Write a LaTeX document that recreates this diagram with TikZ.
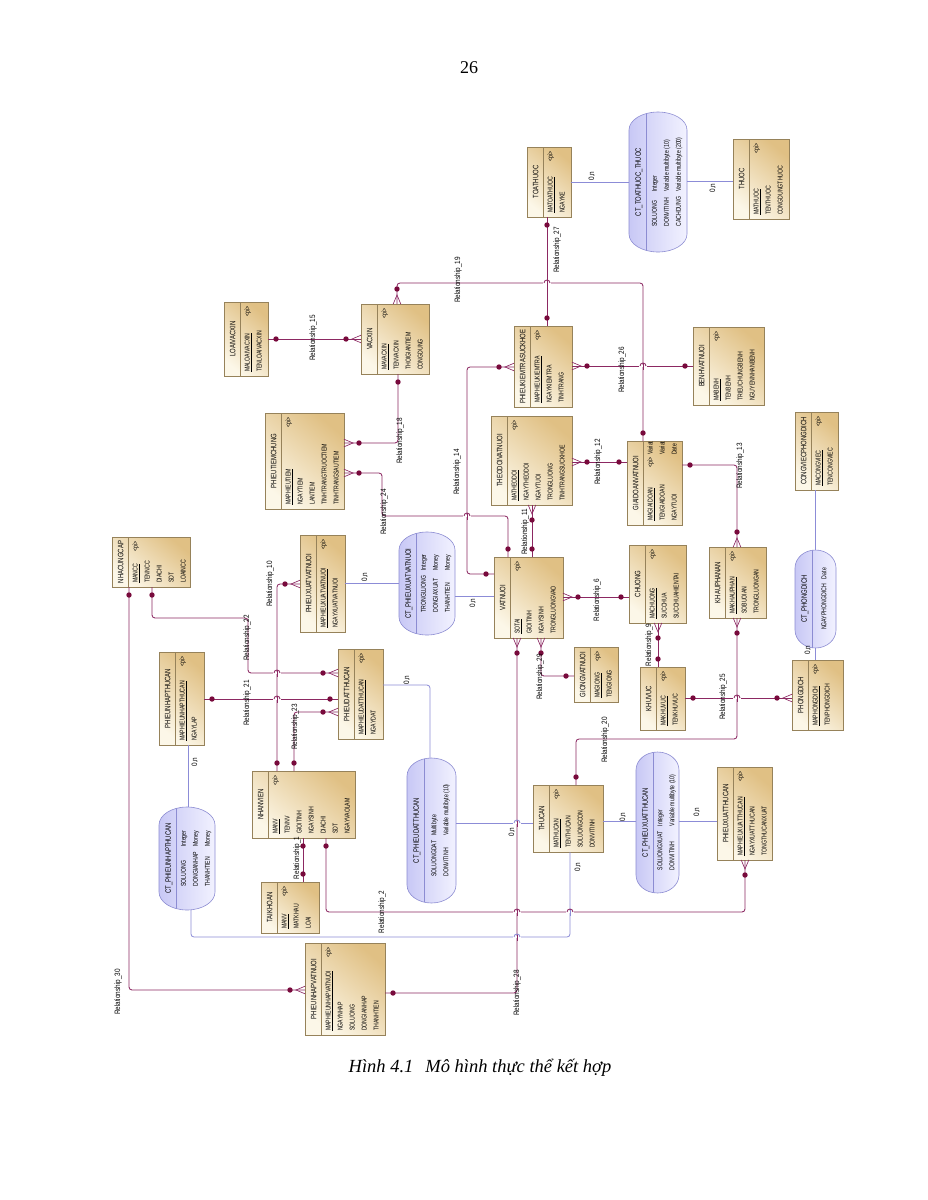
\documentclass[tikz,border=0pt]{standalone}
\usepackage{fontspec}
\setmainfont{Liberation Serif}
\newfontfamily\erf[FakeStretch=0.74]{Liberation Sans}
\newfontfamily\erft[FakeStretch=0.76]{Liberation Sans}
\newfontfamily\erfl[FakeStretch=0.82]{Liberation Sans}
\usetikzlibrary{calc}

\definecolor{relc}{RGB}{140,40,98}
\definecolor{dotc}{RGB}{120,10,60}
\definecolor{asc}{RGB}{140,140,215}
\definecolor{entl}{RGB}{252,247,232}
\definecolor{entd}{RGB}{224,192,132}
\definecolor{entb}{RGB}{150,130,90}
\definecolor{capl}{RGB}{242,242,255}
\definecolor{capd}{RGB}{200,200,245}
\definecolor{capb}{RGB}{140,140,210}

\tikzset{
  entbox/.style={draw=entb, line width=0.6pt, top color=entd, bottom color=entl, shading angle=-40, inner sep=0pt, outer sep=0pt},
  capshape/.style={draw=capb, line width=0.6pt, left color=capd, right color=capl},
  etext/.style={font=\erf\fontsize{7}{7.6}\selectfont, inner sep=0pt, text height=5pt, text depth=0pt, rotate=90, text=black},
  ttext/.style={font=\erft\fontsize{7.8}{8.4}\selectfont, inner sep=0pt, text height=5.6pt, text depth=0pt, rotate=90, text=black},
  ctext/.style={font=\erf\fontsize{7}{12}\selectfont, inner sep=0pt, text=black},
  lbl/.style={font=\erfl\fontsize{7.8}{8.4}\selectfont, inner sep=0pt, rotate=90, text=black},
  rel/.style={color=relc, line width=0.85pt, rounded corners=3pt},
  asl/.style={color=asc, line width=0.8pt, rounded corners=3pt},
  crowline/.style={color=relc, line width=0.65pt}
}

% entity: [pi offset]{name}{x}{y}{w}{h}{title}{attributes}
\newcommand\ent[8][4]{%
  \node[entbox, minimum width=#5pt, minimum height=#6pt, anchor=north west] (#2) at (#3,#4) {};
  \draw[entb, line width=0.5pt] ($(#2.north west)+(16,0)$) -- ($(#2.south west)+(16,0)$);
  \node[ttext] at ($(#2.west)+(8.5,0)$) {#7};
  \foreach \a [count=\i] in {#8} {%
    \ifnum\i=1\relax
      \node[etext, anchor=west] at ($(#2.south west)+(23,-4)$) {\underline{\a}};
    \else
      \node[etext, anchor=west] at ($(#2.south west)+({23+12*(\i-1)},-4)$) {\a};
    \fi
  }
  \node[etext, anchor=east] at ($(#2.north west)+(23,#1)$) {<pi>};
}

% association: {name}{x}{y}{w}{h}{title}{rows}
\newcommand\assoc[7]{%
  \node[minimum width=#4pt, minimum height=#5pt, anchor=north west, inner sep=0pt, outer sep=0pt] (#1) at (#2,#3) {};
  \path[capshape, path picture={\draw[capb, line width=0.5pt] ($(path picture bounding box.north west)+(17,0)$) -- ($(path picture bounding box.south west)+(17,0)$);}]
    ($(#1.north west)+(0,18)$) arc[start angle=180, end angle=0, x radius={#4*0.5pt}, y radius=18pt]
    -- ($(#1.south east)+(0,-18)$) arc[start angle=0, end angle=-180, x radius={#4*0.5pt}, y radius=18pt] -- cycle;
  \node[ttext] at ($(#1.west)+(9,0)$) {#6};
  \node[ctext, rotate=90] at ($(#1.center)+(8.5,0)$) {\begin{tabular}{@{}l@{\hspace{5pt}}l@{}}#7\end{tabular}};
}

% markers: {coordinate}{dx}{dy}  (direction pointing away from the entity)
\newcommand\one[3]{\fill[dotc] ($(#1)+({8*(#2)},{8*(#3)})$) circle (2.7pt);}
\newcommand\many[3]{%
  \fill[dotc] ($(#1)+({15*(#2)},{15*(#3)})$) circle (2.7pt);
  \draw[crowline] ($(#1)+({3.8*(#3)},{3.8*(#2)})$) -- ($(#1)+({9*(#2)},{9*(#3)})$) -- ($(#1)+({-3.8*(#3)},{-3.8*(#2)})$);
}

\newcommand\hopH[4]{%
  \fill[white] (#1-3.6,#2-1.4) rectangle (#1+3.6,#2+1.4);
  \draw[color=#4, line width=0.85pt] (#1,#2-3.5) -- (#1,#2+3.5);
  \draw[color=#3, line width=0.85pt] (#1-3,#2) arc[start angle=180, end angle=0, radius=3pt];
}

\begin{document}
\begin{tikzpicture}[x=1pt,y=-1pt]
\path[fill=white] (0,0) rectangle (927,1200);

\node[font=\fontsize{18}{20}\selectfont] (pageno) at (469,68) {26};
\node[font=\itshape\fontsize{18.5}{21}\selectfont] (caption) at (480,1068) {Hình 4.1\hspace{12pt}Mô hình thực thể kết hợp};

% ---------- entities ----------
\ent{toathuoc}{527}{147}{44}{70}{TOATHUOC}{MATOATHUOC, NGAYKE}
\ent{thuoc}{733}{139}{56}{80}{THUOC}{MATHUOC, TENTHUOC, CONGDUNGTHUOC}
\ent{vacxin}{361}{304}{68}{70}{VACXIN}{MAVACXIN, TENVACXIN, THOIGIANTIEM, CONGDUNG}
\ent{loaivacxin}{224}{302}{44}{74}{LOAIVACXIN}{MALOAIVACXIN, TENLOAIVACXIN}
\ent{phieukiemtra}{514}{326}{58}{81}{PHIEUKIEMTRASUCKHOE}{MAPHIEUKIEMTRA, NGAYKIEMTRA, TINHTRANG}
\ent{benh}{693}{327}{71}{78}{BENHVATNUOI}{MABENH, TENBENH, TRIEUCHUNGBENH, NGUYENNHANBENH}
\ent{theodoi}{491}{416}{81}{89}{THEODOIVATNUOI}{MATHEODOI, NGAYTHEODOI, NGAYTUOI, TRONGLUONG, TINHTRANGSUCKHOE}
\ent[16]{giaidoan}{627}{441}{55}{84}{GIAIDOANVATNUOI}{MAGIAIDOAN, TENGIAIDOAN, NGAYTUOI}
\begin{scope}
  \clip (giaidoan.north west) rectangle (giaidoan.south east);
  \node[etext, anchor=west] (gdt1) at ($(giaidoan.north west)+(23,14)$) {Variat};
  \node[etext, anchor=west] (gdt2) at ($(giaidoan.north west)+(35,14)$) {Variat};
  \node[etext, anchor=west] (gdt3) at ($(giaidoan.north west)+(47,14)$) {Date};
\end{scope}
\ent{khauphan}{709}{547}{57}{71}{KHAUPHANAN}{MAKHAUPHAN, SOBUOIAN, TRONGLUONGAN}
\ent{chuong}{629}{545}{57}{78}{CHUONG}{MACHUONG, SUCCHUA, SUCCHUAHIENTAI}
\ent{khuvuc}{640}{667}{45}{63}{KHUVUC}{MAKHUVUC, TENKHUVUC}
\ent{giong}{574}{647}{44}{55}{GIONGVATNUOI}{MAGIONG, TENGIONG}
\ent{vatnuoi}{494}{557}{69}{81}{VATNUOI}{SOTAI, GIOITINH, NGAYSINH, TRONGLUONGVAO}
\ent{phieuxuatvn}{300}{535}{45}{97}{PHIEUXUATVATNUOI}{MAPHIEUXUATVATNUOI, NGAYXUATVATNUOI}
\ent{phieutiem}{265}{413}{79}{96}{PHIEUTIEMCHUNG}{MAPHIEUTIEM, NGAYTIEM, LANTIEM, TINHTRANGTRUOCTIEM, TINHTRANGSAUTIEM}
\ent{ncc}{112}{537}{78}{50}{NHACUNGCAP}{MANCC, TENNCC, DIACHI, SDT, LOAINCC}
\ent{phieunhapta}{159}{652}{45}{93}{PHIEUNHAPTHUCAN}{MAPHIEUNHAPTHUCAN, NGAYLAP}
\ent{phieudatta}{338}{649}{45}{90}{PHIEUDATTHUCAN}{MAPHIEUDATTHUCAN, NGAYDAT}
\ent{nhanvien}{252}{771}{103}{67}{NHANVIEN}{MANV, TENNV, GIOITINH, NGAYSINH, DIACHI, SDT, NGAYVAOLAM}
\ent{taikhoan}{261}{882}{58}{51}{TAIKHOAN}{MANV, MATKHAU, LOAI}
\ent{thucan}{533}{785}{70}{67}{THUCAN}{MATHUCAN, TENTHUCAN, SOLUONGCON, DONVITINH}
\ent{phieuxuatta}{717}{767}{55}{93}{PHIEUXUATTHUCAN}{MAPHIEUXUATTHUCAN, NGAYXUATTHUCAN, TONGTHUCANXUAT}
\ent{phieunhapvn}{305}{943}{80}{92}{PHIEUNHAPVATNUOI}{MAPHIEUNHAPVATNUOI, NGAYNHAP, SOLUONG, DONGIANHAP, THANHTIEN}
\ent{phongdich}{792}{660}{51}{70}{PHONGDICH}{MAPHONGDICH, TENPHONGDICH}
\ent{congviec}{795}{412}{43}{78}{CONGVIECPHONGDICH}{MACONGVIEC, TENCONGVIEC}

% ---------- associations ----------
\assoc{ctToa}{629}{112}{58}{140}{CT\_TOATHUOC\_THUOC}{SOLUONG & Integer\\ DONVITINH & Variable multibyte (10)\\ CACHDUNG & Variable multibyte (200)}
\assoc{ctXuatVN}{399}{532}{56}{103}{CT\_PHIEUXUATVATNUOI}{TRONGLUONG & Integer\\ DONGIAXUAT & Money\\ THANHTIEN & Money}
\assoc{ctNhapTA}{159}{807}{56}{103}{CT\_PHIEUNHAPTHUCAN}{SOLUONG & Integer\\ DONGIANHAP & Money\\ THANHTIEN & Money}
\assoc{ctDatTA}{407}{758}{49}{145}{CT\_PHIEUDATTHUCAN}{SOLUONGDAT & Multibyte\\ DONVITINH & Variable multibyte (10)}
\assoc{ctXuatTA}{636}{752}{43}{141}{CT\_PHIEUXUATTHUCAN}{SOLUONGXUAT & Integer\\ DONVITINH & Variable multibyte (10)}
\assoc{ctPhong}{795}{550}{41}{98}{CT\_PHONGDICH}{NGAYPHONGDICH & Date}

% ---------- association links ----------
\draw[asl] ($(toathuoc.north east)+(0,35)$) -- ($(ctToa.north west)+(0,70)$);
\draw[asl] ($(ctToa.north east)+(0,69)$) -- ($(thuoc.north west)+(0,42)$);
\draw[asl] ($(ctXuatVN.north west)+(0,51)$) -- ($(phieuxuatvn.north east)+(0,48)$);
\draw[asl] ($(ctXuatVN.north east)+(0,64)$) -- ($(vatnuoi.north west)+(0,39)$);
\draw[asl] ($(phieudatta.north east)+(0,36)$) -| ($(ctDatTA.north west)+(23,0)$);
\draw[asl] ($(ctDatTA.north east)+(0,65)$) -- ($(thucan.north west)+(0,38)$);
\draw[asl] ($(phieunhapta.south west)+(29,0)$) -- ($(ctNhapTA.north west)+(29,0)$);
\draw[asl] ($(ctNhapTA.south west)+(32,0)$) |- ($(thucan.south west)+(37,85)$) -- ($(thucan.south west)+(37,0)$);
\draw[asl] ($(thucan.north east)+(0,36)$) -- ($(ctXuatTA.north west)+(0,69)$);
\draw[asl] ($(ctXuatTA.north east)+(0,69)$) -- ($(phieuxuatta.north west)+(0,54)$);
\draw[asl] ($(congviec.south west)+(20,0)$) -- ($(ctPhong.north west)+(20,0)$);
\draw[asl] ($(ctPhong.south west)+(20,0)$) -- ($(phongdich.north west)+(23,0)$);

% ---------- relationship end points ----------
\coordinate (r27a) at ($(toathuoc.south west)+(20,0)$);
\coordinate (r27b) at ($(phieukiemtra.north west)+(33,0)$);
\coordinate (r19a) at ($(vacxin.north west)+(36,0)$);
\coordinate (r19b) at ($(giaidoan.north west)+(16,0)$);
\coordinate (r15a) at ($(loaivacxin.north east)+(0,37)$);
\coordinate (r15b) at ($(vacxin.north west)+(0,35)$);
\coordinate (r26a) at ($(phieukiemtra.north east)+(0,40)$);
\coordinate (r26b) at ($(benh.north west)+(0,39)$);
\coordinate (r14a) at ($(phieukiemtra.north west)+(0,41)$);
\coordinate (r14b) at ($(vatnuoi.north west)+(0,17)$);
\coordinate (r11a) at ($(theodoi.south west)+(41,0)$);
\coordinate (r11b) at ($(vatnuoi.north west)+(38,0)$);
\coordinate (r24a) at ($(phieutiem.north east)+(0,60)$);
\coordinate (r24b) at ($(vatnuoi.north west)+(14,0)$);
\coordinate (r18a) at ($(vacxin.south west)+(37,0)$);
\coordinate (r18b) at ($(phieutiem.north east)+(0,30)$);
\coordinate (r12a) at ($(theodoi.north east)+(0,46)$);
\coordinate (r12b) at ($(giaidoan.north west)+(0,21)$);
\coordinate (r13a) at ($(giaidoan.north east)+(0,24)$);
\coordinate (r13b) at ($(khauphan.north west)+(28,0)$);
\coordinate (r6a) at ($(vatnuoi.north east)+(0,40)$);
\coordinate (r6b) at ($(chuong.north west)+(0,52)$);
\coordinate (r9a) at ($(chuong.south west)+(29,0)$);
\coordinate (r9b) at ($(khuvuc.north west)+(18,0)$);
\coordinate (r25a) at ($(khuvuc.north east)+(0,31)$);
\coordinate (r25b) at ($(phongdich.north west)+(0,38)$);
\coordinate (r20a) at ($(khauphan.south west)+(28,0)$);
\coordinate (r20b) at ($(thucan.north west)+(43,0)$);
\coordinate (r29a) at ($(vatnuoi.south west)+(47,0)$);
\coordinate (r29b) at ($(giong.north west)+(0,29)$);
\coordinate (r28a) at ($(phieunhapvn.north east)+(0,50)$);
\coordinate (r28b) at ($(vatnuoi.south west)+(23,0)$);
\coordinate (r2a) at ($(nhanvien.south west)+(74,0)$);
\coordinate (r2b) at ($(phieuxuatta.south west)+(28,0)$);
\coordinate (r1a) at ($(nhanvien.south west)+(51,0)$);
\coordinate (r1b) at ($(taikhoan.north west)+(42,0)$);
\coordinate (r23a) at ($(nhanvien.north west)+(42,0)$);
\coordinate (r23b) at ($(phieudatta.north west)+(0,63)$);
\coordinate (r10a) at ($(phieuxuatvn.north west)+(0,49)$);
\coordinate (r10b) at ($(nhanvien.north west)+(25,0)$);
\coordinate (r21a) at ($(phieunhapta.north east)+(0,47)$);
\coordinate (r21b) at ($(phieudatta.north west)+(0,50)$);
\coordinate (r22a) at ($(ncc.south west)+(40,0)$);
\coordinate (r22b) at ($(phieudatta.north west)+(0,24)$);
\coordinate (r30a) at ($(ncc.south west)+(17,0)$);
\coordinate (r30b) at ($(phieunhapvn.north west)+(0,47)$);

% ---------- relationships ----------
\draw[rel] (r27a) -- (r27b);
\draw[rel] (r19a) |- ($(r19b)+(0,-158)$) -- (r19b);
\draw[rel] (r15a) -- (r15b);
\draw[rel] (r26a) -- (r26b);
\draw[rel] (r14a) -| ($(r14b)+(-27,0)$) -- (r14b);
\draw[rel] (r11a) -- (r11b);
\draw[rel] (r24a) -| ($(r24a)+(38,43)$) -| (r24b);
\draw[rel] (r18a) |- (r18b);
\draw[rel] (r12a) -- (r12b);
\draw[rel] (r13a) -| (r13b);
\draw[rel] (r6a) -- (r6b);
\draw[rel] (r9a) -- (r9b);
\draw[rel] (r25a) -- (r25b);
\draw[rel] (r20a) |- ($(r20b)+(0,-46)$) -- (r20b);
\draw[rel] (r29a) |- (r29b);
\draw[rel] (r28a) -| (r28b);
\draw[rel] (r2a) |- ($(r2b)+(0,52)$) -- (r2b);
\draw[rel] (r1a) -- (r1b);
\draw[rel] (r23a) |- (r23b);
\draw[rel] (r10a) -| (r10b);
\draw[rel] (r21a) -- (r21b);
\draw[rel] (r22a) |- ($(r22a)+(96,31)$) |- (r22b);
\draw[rel] (r30a) |- (r30b);

% ---------- line hops ----------
\hopH{547}{283}{relc}{relc}
\hopH{643}{366}{relc}{relc}
\hopH{467}{516}{relc}{relc}
\hopH{737}{698}{relc}{relc}
\hopH{277}{673}{relc}{relc}
\hopH{277}{699}{relc}{relc}
\hopH{517}{823}{asc}{relc}
\hopH{517}{912}{relc}{relc}
\hopH{517}{937}{asc}{relc}
\hopH{570}{912}{relc}{asc}

% ---------- end markers ----------
\one{r27a}{0}{1}   \one{r27b}{0}{-1}
\many{r19a}{0}{-1} \one{r19b}{0}{-1}
\one{r15a}{1}{0}   \many{r15b}{-1}{0}
\many{r26a}{1}{0}  \one{r26b}{-1}{0}
\many{r14a}{-1}{0} \one{r14b}{-1}{0}
\many{r11a}{0}{1}  \one{r11b}{0}{-1}
\many{r24a}{1}{0}  \one{r24b}{0}{-1}
\one{r18a}{0}{1}   \many{r18b}{1}{0}
\many{r12a}{1}{0}  \one{r12b}{-1}{0}
\one{r13a}{1}{0}   \many{r13b}{0}{-1}
\many{r6a}{1}{0}   \one{r6b}{-1}{0}
\many{r9a}{0}{1}   \one{r9b}{0}{-1}
\one{r25a}{1}{0}   \many{r25b}{-1}{0}
\many{r20a}{0}{1}  \one{r20b}{0}{-1}
\many{r29a}{0}{1}  \one{r29b}{-1}{0}
\one{r28a}{1}{0}   \many{r28b}{0}{1}
\one{r2a}{0}{1}    \many{r2b}{0}{1}
\one{r1a}{0}{1}    \one{r1b}{0}{-1}
\one{r23a}{0}{-1}  \many{r23b}{-1}{0}
\many{r10a}{-1}{0} \one{r10b}{0}{-1}
\one{r21a}{1}{0}   \one{r21b}{-1}{0}
\one{r22a}{0}{1}   \many{r22b}{-1}{0}
\one{r30a}{0}{1}   \many{r30b}{-1}{0}

% ---------- labels ----------
\node[lbl] (l27) at (557,250) {Relationship\_27};
\node[lbl] (l19) at (458,280) {Relationship\_19};
\node[lbl] (l15) at (313,338) {Relationship\_15};
\node[lbl] (l26) at (622,370) {Relationship\_26};
\node[lbl] (l14) at (457,472) {Relationship\_14};
\node[lbl] (l18) at (400,441) {Relationship\_18};
\node[lbl] (l24) at (384,512) {Relationship\_24};
\node[lbl] (l11) at (525,532) {Relationship\_11};
\node[lbl] (l12) at (598,462) {Relationship\_12};
\node[lbl] (l13) at (740,466) {Relationship\_13};
\node[lbl] (l6) at (597,600) {Relationship\_6};
\node[lbl] (l9) at (649,645) {Relationship\_9};
\node[lbl] (l25) at (723,697) {Relationship\_25};
\node[lbl] (l20) at (605,740) {Relationship\_20};
\node[lbl] (l29) at (540,677) {Relationship\_29};
\node[lbl] (l10) at (270,584) {Relationship\_10};
\node[lbl] (l22) at (247,638) {Relationship\_22};
\node[lbl] (l21) at (247,703) {Relationship\_21};
\node[lbl] (l23) at (295,727) {Relationship\_23};
\node[lbl] (l1) at (297,858) {Relationship\_1};
\node[lbl] (l2) at (382,912) {Relationship\_2};
\node[lbl] (l28) at (517,993) {Relationship\_28};
\node[lbl] (l30) at (118,992) {Relationship\_30};

\node[lbl] (n1) at (592,176) {0,n};
\node[lbl] (n2) at (713,188) {0,n};
\node[lbl] (n3) at (365,577) {0,n};
\node[lbl] (n4) at (473,603) {0,n};
\node[lbl] (n5) at (407,680) {0,n};
\node[lbl] (n6) at (512,832) {0,n};
\node[lbl] (n7) at (195,762) {0,n};
\node[lbl] (n8) at (578,867) {0,n};
\node[lbl] (n9) at (623,817) {0,n};
\node[lbl] (n10) at (697,812) {0,n};
\node[lbl] (n11) at (808,650) {0,n};
\end{tikzpicture}
\end{document}
